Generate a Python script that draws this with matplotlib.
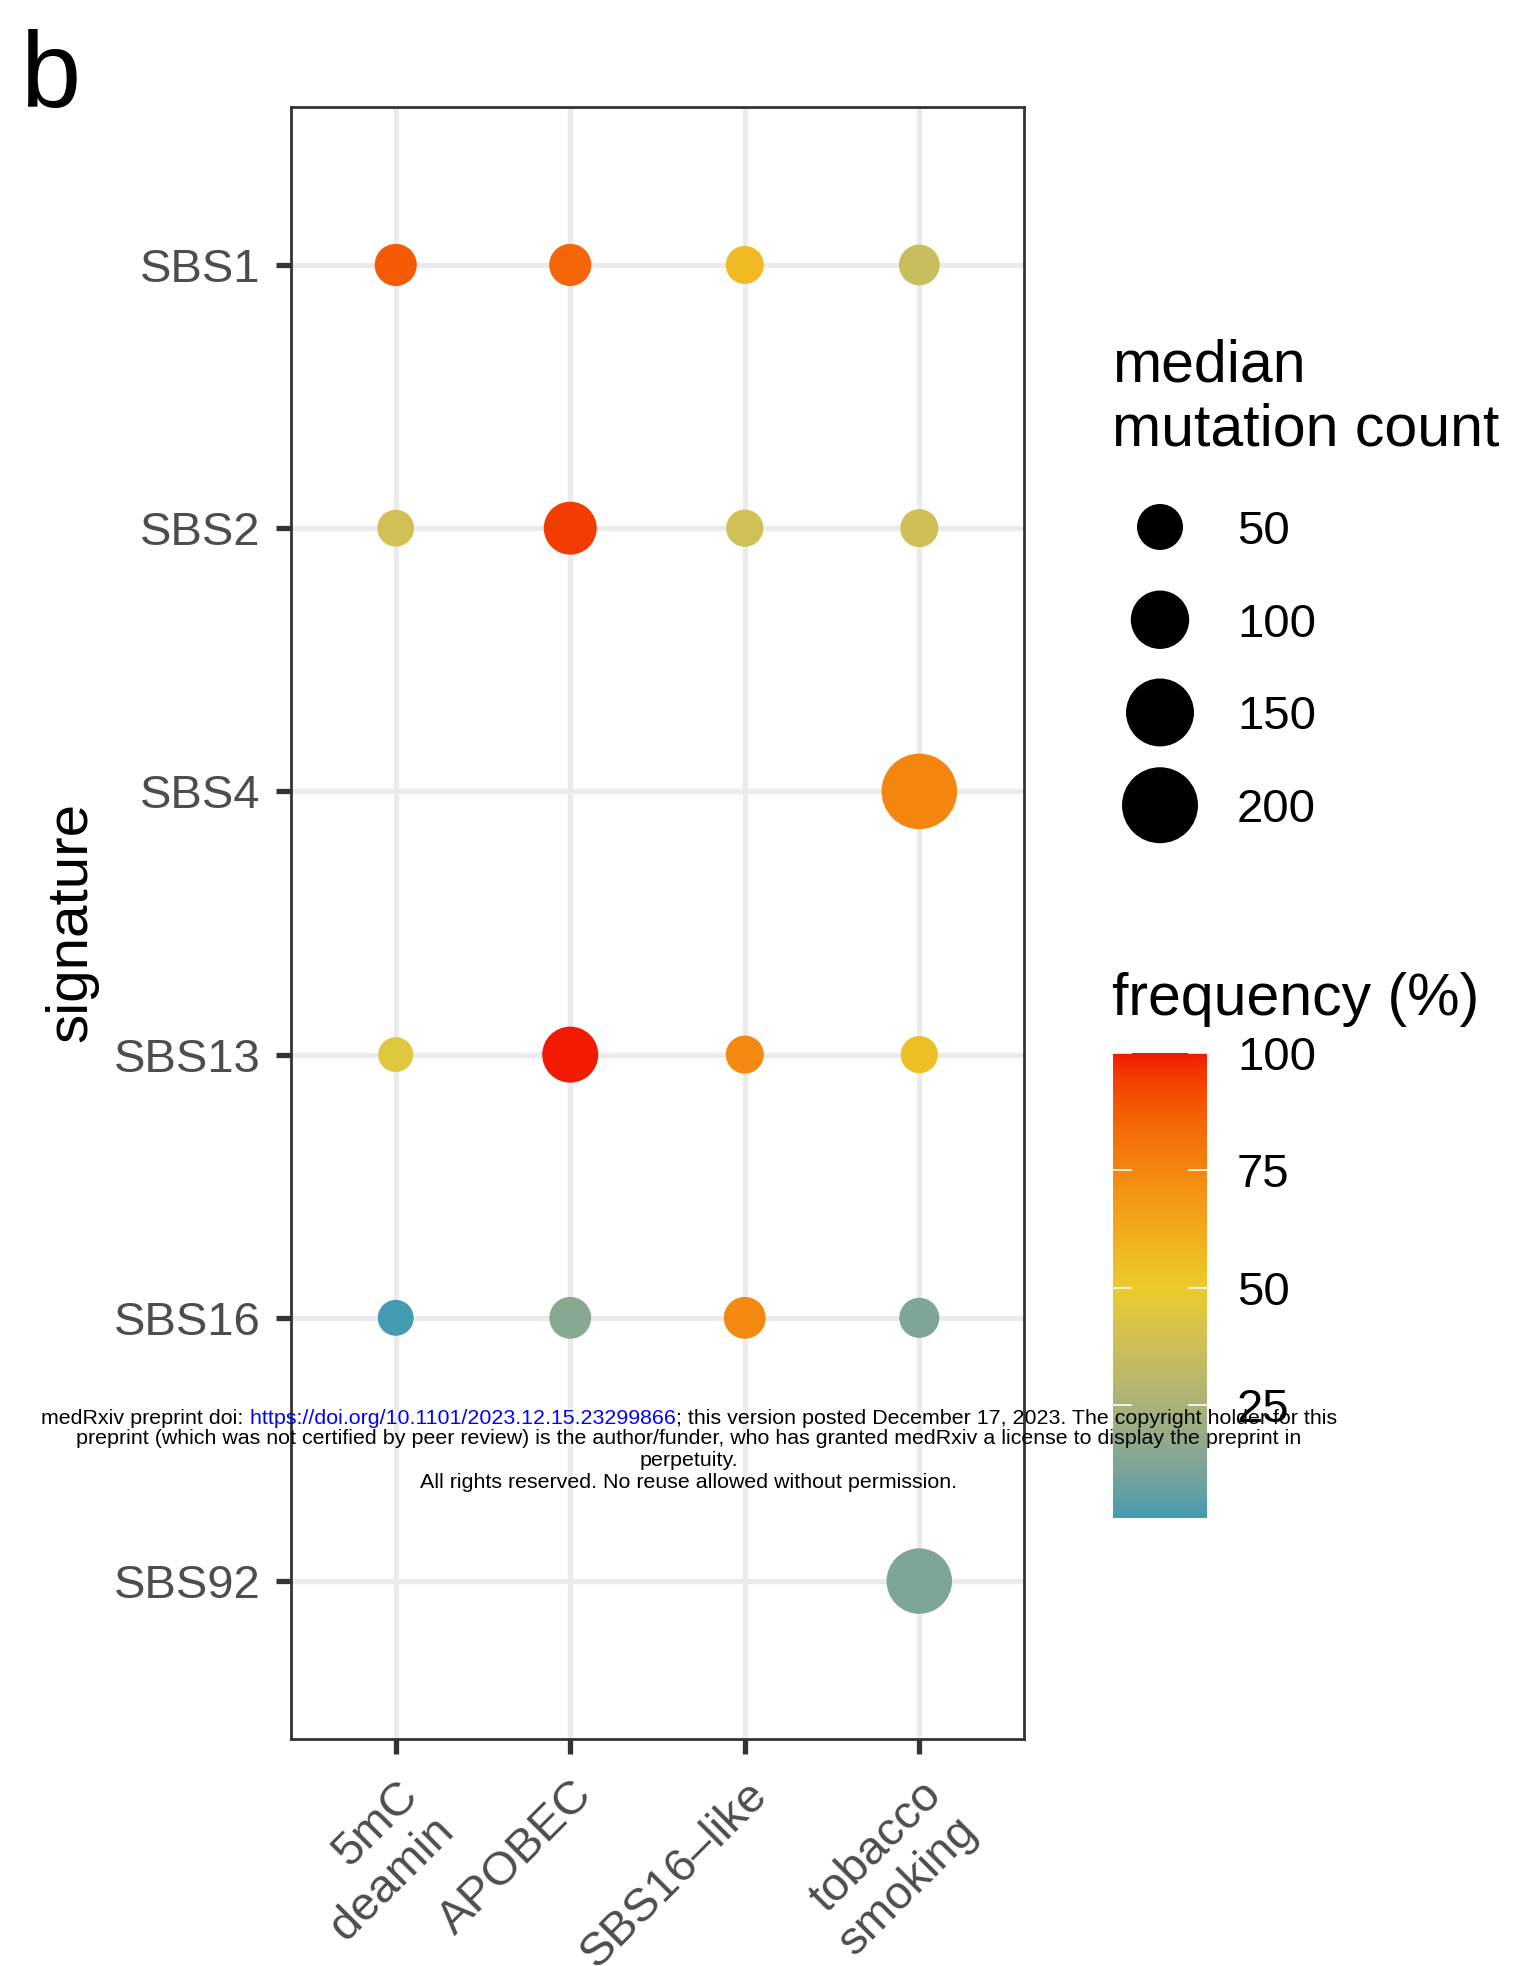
import numpy as np
import matplotlib
matplotlib.use("Agg")
import matplotlib.pyplot as plt
from matplotlib.colors import ListedColormap, Normalize, to_rgb

plt.rcParams["font.family"] = ["Liberation Sans", "DejaVu Sans"]

# ---------------- data ----------------
processes = ["5mC\ndeamin", "APOBEC", "SBS16\u2013like", "tobacco\nsmoking"]
signatures = ["SBS1", "SBS2", "SBS4", "SBS13", "SBS16", "SBS92"]

point_signature = ["SBS1", "SBS1", "SBS1", "SBS1",
                   "SBS2", "SBS2", "SBS2", "SBS2",
                   "SBS4",
                   "SBS13", "SBS13", "SBS13", "SBS13",
                   "SBS16", "SBS16", "SBS16", "SBS16",
                   "SBS92"]
point_process = ["5mC\ndeamin", "APOBEC", "SBS16\u2013like", "tobacco\nsmoking",
                 "5mC\ndeamin", "APOBEC", "SBS16\u2013like", "tobacco\nsmoking",
                 "tobacco\nsmoking",
                 "5mC\ndeamin", "APOBEC", "SBS16\u2013like", "tobacco\nsmoking",
                 "5mC\ndeamin", "APOBEC", "SBS16\u2013like", "tobacco\nsmoking",
                 "tobacco\nsmoking"]
median_count = [38, 38, 27, 34,
                24, 76, 25, 27,
                197,
                20, 89, 27, 25,
                22, 37, 37, 32,
                136]
frequency = [88, 85, 57, 36,
             39, 95, 39, 38,
             75,
             45, 100, 74, 55,
             1, 15, 74, 12,
             12]

size_breaks = [50, 100, 150, 200]
freq_breaks = [25, 50, 75, 100]

low_col, mid_col, high_col = "#3B9AB2", "#EBCC2A", "#F21A00"

# ---------------- figure geometry ----------------
W, H, DPI = 1513, 1966, 100


def px_rect(left, top, right, bottom):
    return [left / W, 1 - bottom / H, (right - left) / W, (bottom - top) / H]


def marker_area(count):
    """Point area (pt^2) for a median mutation count."""
    d_px = 16.0 + 4.24 * np.sqrt(np.asarray(count, dtype=float))
    return (d_px * 72.0 / DPI) ** 2


# ---------------- diverging colour scale, interpolated in CIE Lab ----------------
_M = np.array([[0.4124564, 0.3575761, 0.1804375],
               [0.2126729, 0.7151522, 0.0721750],
               [0.0193339, 0.1191920, 0.9503041]])
_WHITE = np.array([0.95047, 1.0, 1.08883])


def _to_lab(hexcol):
    c = np.array(to_rgb(hexcol))
    lin = np.where(c <= 0.04045, c / 12.92, ((c + 0.055) / 1.055) ** 2.4)
    xyz = _M @ lin / _WHITE
    d = 6 / 29
    f = np.where(xyz > d ** 3, np.cbrt(xyz), xyz / (3 * d * d) + 4 / 29)
    return np.array([116 * f[1] - 16, 500 * (f[0] - f[1]), 200 * (f[1] - f[2])])


def _from_lab(lab):
    L, a, b = lab
    fy = (L + 16) / 116
    f = np.array([fy + a / 500, fy, fy - b / 200])
    d = 6 / 29
    xyz = np.where(f > d, f ** 3, 3 * d * d * (f - 4 / 29)) * _WHITE
    lin = np.linalg.solve(_M, xyz)
    lin = np.clip(lin, 0, 1)
    c = np.where(lin <= 0.0031308, 12.92 * lin, 1.055 * lin ** (1 / 2.4) - 0.055)
    return np.clip(c, 0, 1)


lab_lo, lab_mid, lab_hi = _to_lab(low_col), _to_lab(mid_col), _to_lab(high_col)
ramp = []
for t in np.linspace(0, 1, 256):
    if t <= 0.5:
        u = t / 0.5
        lab = lab_lo + (lab_mid - lab_lo) * u
    else:
        u = (t - 0.5) / 0.5
        lab = lab_mid + (lab_hi - lab_mid) * u
    ramp.append(_from_lab(lab))
cmap = ListedColormap(ramp)
norm = Normalize(vmin=0, vmax=100)   # midpoint 50

# ---------------- figure ----------------
fig = plt.figure(figsize=(W / DPI, H / DPI), dpi=DPI, facecolor="white")

ax = fig.add_axes(px_rect(291, 107, 1024, 1739))
xs = [processes.index(p) for p in point_process]
ys = [signatures.index(s) for s in point_signature]
ax.scatter(xs, ys, s=marker_area(median_count), c=frequency, cmap=cmap,
           norm=norm, linewidths=0, zorder=3)
ax.set_xlim(-0.6, len(processes) - 0.4)
ax.set_ylim(len(signatures) - 0.4, -0.6)
ax.set_xticks(range(len(processes)), processes)
ax.set_yticks(range(len(signatures)), signatures)
ax.grid(True, color="#EBEBEB", linewidth=3.8)
ax.set_axisbelow(True)
for sp in ax.spines.values():
    sp.set_color("#333333")
    sp.set_linewidth(2.0)
ax.tick_params(length=10.8, width=3.8, color="#333333", labelsize=34,
               labelcolor="#4D4D4D", pad=13.7)
ax.tick_params(axis="y", pad=11.2)
plt.setp(ax.get_xticklabels(), rotation=45, ha="right", va="top",
         rotation_mode="anchor")

fig.text(71 / W, 1 - 922 / H, "signature", rotation=90, ha="center",
         va="center", fontsize=42)
fig.text(20 / W, 1 - 107 / H, "b", fontsize=78, va="baseline", ha="left")

# ---------------- size legend ----------------
fig.text(1112 / W, 1 - 382 / H, "median", fontsize=42.5, va="baseline", ha="left")
fig.text(1112 / W, 1 - 445 / H, "mutation count", fontsize=42.5, va="baseline",
         ha="left")
ax_size = fig.add_axes(px_rect(1100, 480.6, 1500, 851.6))
ax_size.set_axis_off()
ax_size.set_xlim(0, 1)
ax_size.set_ylim(len(size_breaks) - 0.5, -0.5)
ax_size.scatter([0.15] * len(size_breaks), range(len(size_breaks)),
                s=marker_area(size_breaks), c="black", linewidths=0,
                clip_on=False)
for i, b in enumerate(size_breaks):
    ax_size.text(0.3425, i, str(b), fontsize=34, va="center_baseline", ha="left")

# ---------------- colour bar ----------------
fig.text(1112 / W, 1 - 1015 / H, "frequency (%)", fontsize=42.5,
         va="baseline", ha="left")
vmin, vmax = min(frequency), max(frequency)
ax_cb = fig.add_axes(px_rect(1113, 1053, 1207, 1518))
grad = np.linspace(vmin, vmax, 512)[:, None]
ax_cb.imshow(grad, extent=[0, 1, vmin, vmax], origin="lower", aspect="auto",
             cmap=cmap, norm=norm, interpolation="bilinear")
ax_cb.set_xlim(0, 1)
ax_cb.set_ylim(vmin, vmax)
ax_cb.hlines(freq_breaks, 0, 0.2, color="white", linewidth=1.2)
ax_cb.hlines(freq_breaks, 0.8, 1, color="white", linewidth=1.2)
ax_cb.set_xticks([])
ax_cb.yaxis.tick_right()
ax_cb.set_yticks(freq_breaks)
ax_cb.tick_params(axis="y", length=0, pad=21.6, labelsize=34,
                  labelcolor="black")
for sp in ax_cb.spines.values():
    sp.set_visible(False)

# ---------------- preprint notice ----------------
wm_fs = 15.4
wm_cx = 689
line1 = [("medRxiv preprint doi:", "black"),
         (" https://doi.org/10.1101/2023.12.15.23299866", "#0000FF"),
         ("; this version posted December 17, 2023. The copyright holder for this",
          "black")]
other_lines = ["preprint (which was not certified by peer review) is the author/funder, "
               "who has granted medRxiv a license to display the preprint in",
               "perpetuity.",
               "All rights reserved. No reuse allowed without permission."]
line_y = [1418, 1439, 1460, 1482]

renderer = fig.canvas.get_renderer()
pieces = []
for s, col in line1:
    t = fig.text(0, 1 - line_y[0] / H, s, fontsize=wm_fs, color=col,
                 va="center", ha="left", zorder=10)
    pieces.append(t)
widths = [t.get_window_extent(renderer).width for t in pieces]
x0 = wm_cx - sum(widths) / 2
for t, w in zip(pieces, widths):
    t.set_x(x0 / W)
    x0 += w
for s, y in zip(other_lines, line_y[1:]):
    fig.text(wm_cx / W, 1 - y / H, s, fontsize=wm_fs, color="black",
             va="center", ha="center", zorder=10)

fig.savefig("out.png", dpi=DPI, facecolor="white")
